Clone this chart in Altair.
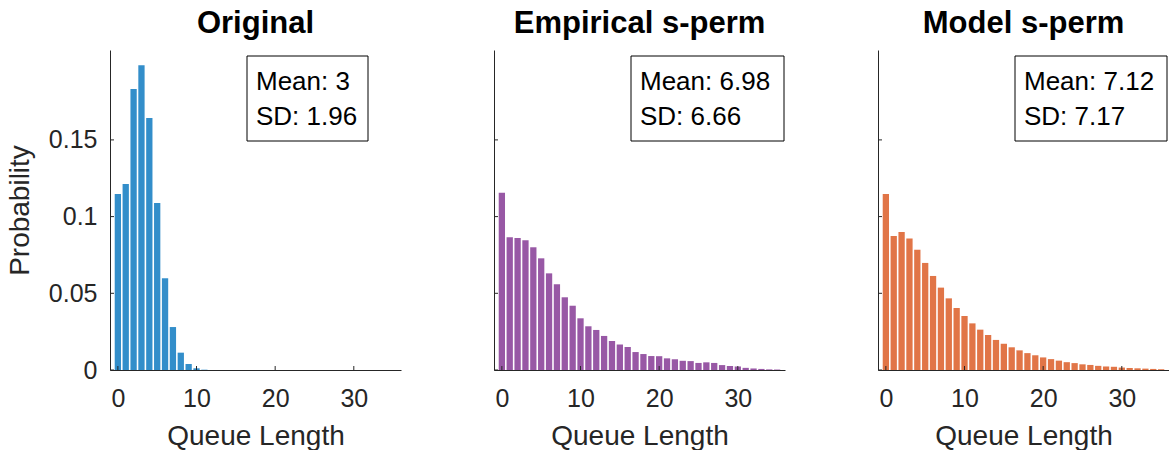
import altair as alt
import pandas as pd

# ---------------- data ----------------
queue_length = list(range(36))

original_prob = [0.1147, 0.1213, 0.1832, 0.1986, 0.1643, 0.1089, 0.0598, 0.0280,
                 0.0113, 0.0039, 0.0011, 0.0002, 0, 0, 0, 0, 0, 0, 0, 0, 0, 0, 0, 0,
                 0, 0, 0, 0, 0, 0, 0, 0, 0, 0, 0, 0]

empirical_prob = [0.1156, 0.0865, 0.0860, 0.0845, 0.0800, 0.0728, 0.0630, 0.0559,
                  0.0474, 0.0419, 0.0337, 0.0285, 0.0261, 0.0222, 0.0189, 0.0167,
                  0.0150, 0.0117, 0.0104, 0.0091, 0.0090, 0.0076, 0.0070, 0.0060,
                  0.0058, 0.0046, 0.0050, 0.0046, 0.0032, 0.0026, 0.0023, 0.0014,
                  0.0010, 0.0007, 0.0004, 0.0003]

model_prob = [0.1147, 0.0873, 0.0900, 0.0858, 0.0784, 0.0698, 0.0613, 0.0537,
              0.0467, 0.0404, 0.0352, 0.0304, 0.0263, 0.0228, 0.0196, 0.0171,
              0.0148, 0.0128, 0.0110, 0.0096, 0.0082, 0.0071, 0.0061, 0.0051,
              0.0045, 0.0037, 0.0033, 0.0027, 0.0023, 0.0021, 0.0016, 0.0013,
              0.0011, 0.0009, 0.0007, 0.0005]

panel_titles = ["Original", "Empirical s-perm", "Model s-perm"]
panel_means = ["3", "6.98", "7.12"]
panel_sds = ["1.96", "6.66", "7.17"]
panel_colors = ["#338ECA", "#9858A5", "#E17547"]

x_ticks = [0, 10, 20, 30]
y_ticks = [0, 0.05, 0.1, 0.15]
x_domain = [-1, 36]
y_domain = [0, 0.2086]

# ---------------- layout / style ----------------
W, H = 291, 320
FONT = "Liberation Sans"
AX = "#262626"
TICK = 4
box_widths = [121, 153, 152]


def panel(values, color, title, mean, sd, box_w, first):
    df = pd.DataFrame({"q": queue_length, "p": values})
    xs = alt.Scale(domain=x_domain, nice=False, zero=False)
    ys = alt.Scale(domain=y_domain, nice=False, zero=False)

    x_axis = alt.Axis(values=x_ticks, title="Queue Length", ticks=False, grid=False,
                      domainColor=AX, domainWidth=1, labelFontSize=25, labelColor=AX,
                      labelFont=FONT, labelPadding=16, titleFont=FONT, titleFontSize=28,
                      titleFontWeight="normal", titleColor=AX, titlePadding=11,
                      labelFlush=False)
    if first:
        y_axis = alt.Axis(values=y_ticks, format="~g", title="Probability", ticks=False,
                          grid=False, domainColor=AX, domainWidth=1, labelFontSize=25,
                          labelColor=AX, labelFont=FONT, labelPadding=13,
                          titleFont=FONT, titleFontSize=28, titleFontWeight="normal",
                          titleColor=AX, titlePadding=14, labelFlush=False)
    else:
        y_axis = alt.Axis(values=y_ticks, labels=False, title=None, ticks=False,
                          grid=False, domainColor=AX, domainWidth=1)

    bars = alt.Chart(df).transform_filter("datum.p > 0").transform_calculate(
        q0="datum.q - 0.4", q1="datum.q + 0.4"
    ).mark_bar(color=color, strokeWidth=0).encode(
        x=alt.X("q0:Q", scale=xs, axis=x_axis),
        x2="q1:Q",
        y=alt.Y("p:Q", scale=ys, axis=y_axis),
        y2=alt.datum(0),
    )

    xt = alt.Chart(pd.DataFrame({"t": x_ticks})).mark_rule(color=AX, strokeWidth=1).encode(
        x=alt.X("t:Q", scale=xs), y=alt.value(H), y2=alt.value(H - TICK)
    )
    yt = alt.Chart(pd.DataFrame({"t": y_ticks})).mark_rule(color=AX, strokeWidth=1).encode(
        y=alt.Y("t:Q", scale=ys), x=alt.value(0), x2=alt.value(TICK)
    )

    box = alt.Chart(pd.DataFrame({"k": [0]})).mark_rect(
        fill="white", stroke="black", strokeWidth=1
    ).encode(x=alt.value(137), x2=alt.value(137 + box_w), y=alt.value(6), y2=alt.value(91))

    def line(txt, xpix, ypix, size, weight, align):
        return alt.Chart(pd.DataFrame({"line": [txt]})).mark_text(
            align=align, baseline="alphabetic", fontSize=size, font=FONT,
            fontWeight=weight, color="black"
        ).encode(x=alt.value(xpix), y=alt.value(ypix), text="line:N")

    head = line(title, W / 2, -17, 31, "bold", "center")

    return alt.layer(bars, xt, yt, box,
                     line(f"Mean: {mean}", 146, 40, 26, "normal", "left"),
                     line(f"SD: {sd}", 146, 75, 26, "normal", "left"),
                     head).properties(width=W, height=H)


probs = [original_prob, empirical_prob, model_prob]
panels = [panel(probs[i], panel_colors[i], panel_titles[i], panel_means[i],
                panel_sds[i], box_widths[i], i == 0) for i in range(3)]

chart = alt.hconcat(*panels, spacing=93, bounds="flush").properties(
    padding={"left": 6, "top": 8, "right": 0, "bottom": 0}
).configure(background="white").configure_view(stroke=None)

chart.save("out.html", embed_options={"renderer": "svg", "actions": False})
